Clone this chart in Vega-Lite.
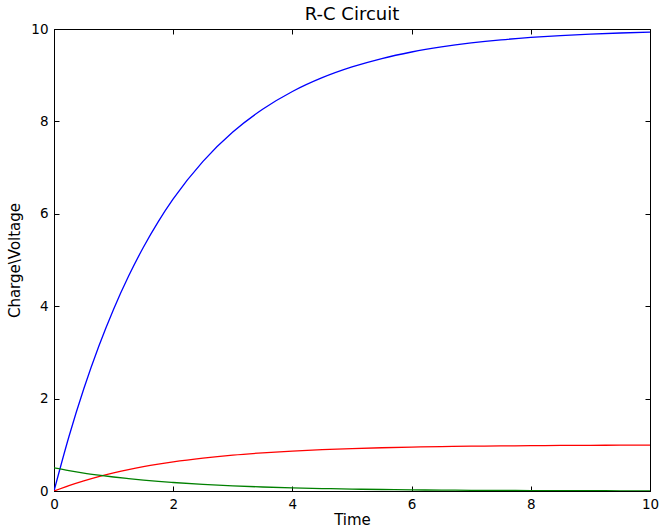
{
  "$schema": "https://vega.github.io/schema/vega-lite/v6.json",
  "width": 596,
  "height": 462,
  "autosize": "none",
  "padding": {"left": 54, "top": 29, "right": 12, "bottom": 37},
  "background": "white",
  "title": {"text": "R-C Circuit", "fontSize": 18, "font": "DejaVu Sans", "fontWeight": "normal", "offset": -2, "color": "black"},
  "data": {"values": [
    {"t": 0, "charge": 0, "voltage": 0, "current": 0.5},
    {"t": 0.25, "charge": 1.175, "voltage": 0.118, "current": 0.441},
    {"t": 0.5, "charge": 2.212, "voltage": 0.221, "current": 0.389},
    {"t": 0.75, "charge": 3.127, "voltage": 0.313, "current": 0.344},
    {"t": 1, "charge": 3.935, "voltage": 0.393, "current": 0.303},
    {"t": 1.25, "charge": 4.647, "voltage": 0.465, "current": 0.268},
    {"t": 1.5, "charge": 5.276, "voltage": 0.528, "current": 0.236},
    {"t": 1.75, "charge": 5.831, "voltage": 0.583, "current": 0.208},
    {"t": 2, "charge": 6.321, "voltage": 0.632, "current": 0.184},
    {"t": 2.5, "charge": 7.135, "voltage": 0.713, "current": 0.143},
    {"t": 3, "charge": 7.769, "voltage": 0.777, "current": 0.112},
    {"t": 3.5, "charge": 8.262, "voltage": 0.826, "current": 0.087},
    {"t": 4, "charge": 8.647, "voltage": 0.865, "current": 0.068},
    {"t": 4.5, "charge": 8.946, "voltage": 0.895, "current": 0.053},
    {"t": 5, "charge": 9.179, "voltage": 0.918, "current": 0.041},
    {"t": 5.5, "charge": 9.361, "voltage": 0.936, "current": 0.032},
    {"t": 6, "charge": 9.502, "voltage": 0.950, "current": 0.025},
    {"t": 6.5, "charge": 9.612, "voltage": 0.961, "current": 0.019},
    {"t": 7, "charge": 9.698, "voltage": 0.970, "current": 0.015},
    {"t": 7.5, "charge": 9.765, "voltage": 0.976, "current": 0.012},
    {"t": 8, "charge": 9.817, "voltage": 0.982, "current": 0.009},
    {"t": 8.5, "charge": 9.857, "voltage": 0.986, "current": 0.007},
    {"t": 9, "charge": 9.889, "voltage": 0.989, "current": 0.006},
    {"t": 9.5, "charge": 9.913, "voltage": 0.991, "current": 0.004},
    {"t": 10, "charge": 9.933, "voltage": 0.993, "current": 0.003}
  ]},
  "config": {
    "view": {"stroke": "black", "strokeWidth": 1},
    "axis": {
      "grid": false,
      "domainColor": "black",
      "domainWidth": 1,
      "tickColor": "black",
      "tickWidth": 1,
      "tickSize": -5,
      "labelColor": "black",
      "titleColor": "black",
      "labelFont": "DejaVu Sans",
      "titleFont": "DejaVu Sans",
      "labelFontSize": 13.5,
      "titleFontSize": 15,
      "titleFontWeight": "normal"
    }
  },
  "layer": [
    {
      "mark": {"type": "line", "color": "#0000ff", "strokeWidth": 1.3, "interpolate": "monotone", "clip": true},
      "encoding": {
        "x": {"field": "t", "type": "quantitative", "scale": {"domain": [0, 10], "nice": false, "zero": false},
              "axis": {"title": "Time", "orient": "bottom", "values": [0, 2, 4, 6, 8, 10], "labelFlush": false, "labelPadding": 11, "titlePadding": 2}},
        "y": {"field": "charge", "type": "quantitative", "scale": {"domain": [0, 10], "nice": false},
              "axis": {"title": "Charge\\Voltage", "orient": "left", "values": [0, 2, 4, 6, 8, 10], "labelFlush": false, "labelPadding": 11, "titlePadding": 8}}
      }
    },
    {
      "mark": {"type": "line", "color": "#ff0000", "strokeWidth": 1.3, "interpolate": "monotone", "clip": true},
      "encoding": {
        "x": {"field": "t", "type": "quantitative", "axis": {"orient": "top", "values": [0, 2, 4, 6, 8, 10], "labels": false, "title": null, "domain": false}},
        "y": {"field": "voltage", "type": "quantitative", "axis": {"orient": "right", "values": [0, 2, 4, 6, 8, 10], "labels": false, "title": null, "domain": false}}
      }
    },
    {
      "mark": {"type": "line", "color": "#008000", "strokeWidth": 1.3, "interpolate": "monotone", "clip": true},
      "encoding": {
        "x": {"field": "t", "type": "quantitative", "axis": null},
        "y": {"field": "current", "type": "quantitative", "axis": null}
      }
    }
  ]
}
